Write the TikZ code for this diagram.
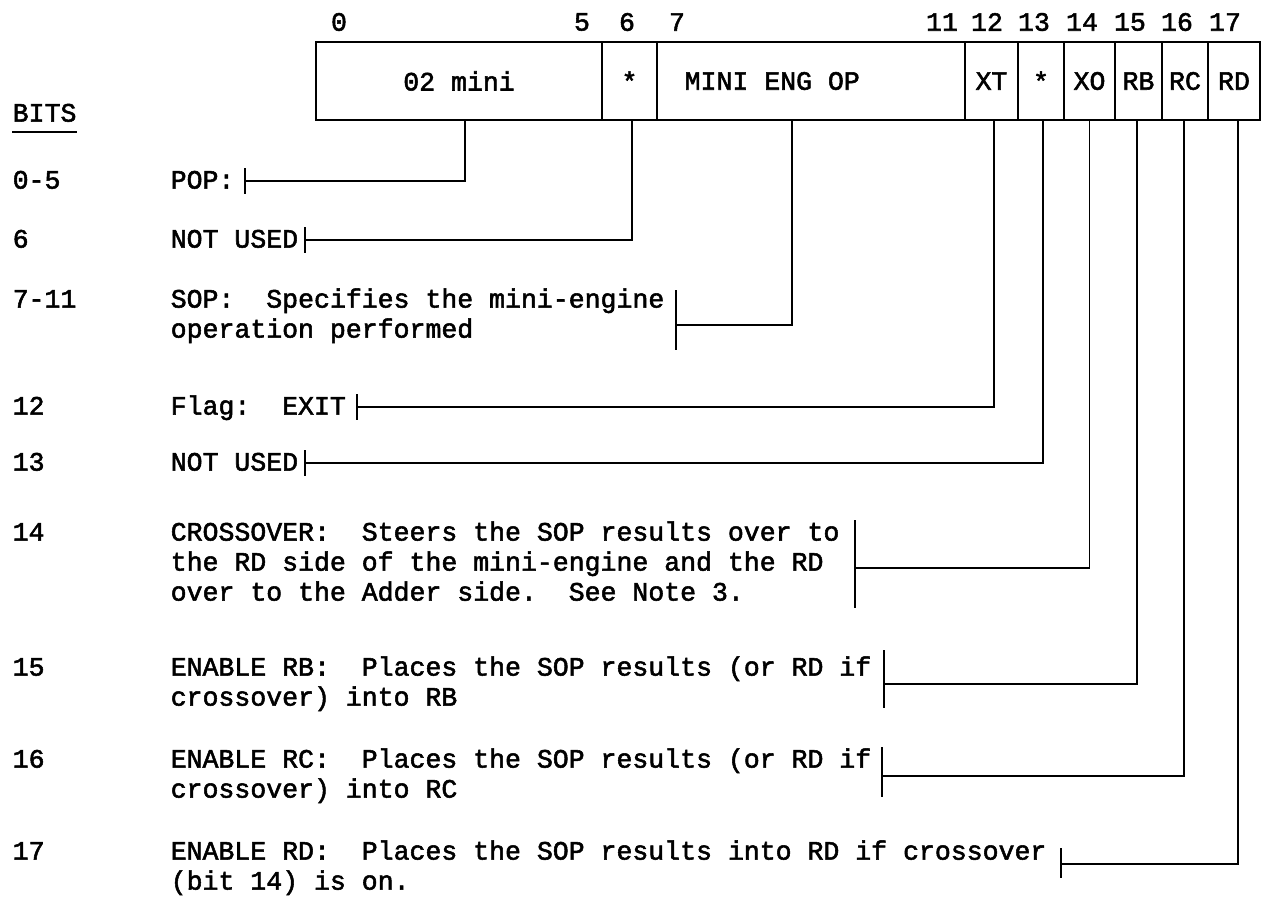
\documentclass[tikz,border=0pt]{standalone}
\usepackage{fontspec}
\newfontfamily\typew[FakeBold=2]{Liberation Mono}

\tikzset{every picture/.style={line width=1.1pt}}
\tikzset{
  tw/.style={font={\typew\fontsize{19.9}{22.5}\selectfont}},
  cell/.style={tw, draw, line width=1.6pt, minimum height=58.5pt, inner sep=0pt},
  bitno/.style={tw, inner sep=0pt},
  desc/.style={tw, anchor=base west, align=left, inner sep=0pt},
  wire/.style={line width=1.2pt},
  tick/.style={line width=1.6pt}
}

\begin{document}
\begin{tikzpicture}[x=0.75pt,y=0.75pt,yscale=-1,xscale=1]
\useasboundingbox (0,0) rectangle (1274,904);

% Register cells
\node [cell, minimum width=214.5pt] (cPop) at (459,81) {02 mini};
\node [cell, minimum width=41.25pt] (cSix) at (629.5,81) {*};
\node [cell, minimum width=231pt] (cSop) at (811,81) {};
\node [tw, anchor=west, inner sep=0pt] (sopText) at ([xshift=21pt]cSop.west) {MINI ENG OP};
\node [cell, minimum width=39.75pt] (cXt) at (991.5,81) {XT};
\node [cell, minimum width=34.5pt] (cThirteen) at (1041,81) {*};
\node [cell, minimum width=38.25pt] (cXo) at (1089.5,81) {XO};
\node [cell, minimum width=35.25pt] (cRb) at (1138.5,81) {RB};
\node [cell, minimum width=34.5pt] (cRc) at (1185,81) {RC};
\node [cell, minimum width=39pt] (cRd) at (1234,81) {RD};

% Bit numbers
\node [bitno] (n0) at (339,22) {0};
\node [bitno] (n5) at (582,22) {5};
\node [bitno] (n6) at (627,22) {6};
\node [bitno] (n7) at (677,22) {7};
\node [bitno] (n11) at (942,22) {11};
\node [bitno] (n12) at (987,22) {12};
\node [bitno] (n13) at (1034,22) {13};
\node [bitno] (n14) at (1082,22) {14};
\node [bitno] (n15) at (1130,22) {15};
\node [bitno] (n16) at (1177,22) {16};
\node [bitno] (n17) at (1225,22) {17};

% Left column
\node [tw, anchor=base west, inner xsep=0pt, inner ysep=7pt] (bits) at (12,121.6) {BITS};
\draw [line width=1.8pt] (bits.south west) -- (bits.south east);
\node [desc] (r0) at (12,188.6) {0-5};
\node [desc] (r6) at (12,247.6) {6};
\node [desc] (r7) at (12,307.6) {7-11};
\node [desc] (r12) at (12,414.6) {12};
\node [desc] (r13) at (12,470.6) {13};
\node [desc] (r14) at (12,540.6) {14};
\node [desc] (r15) at (12,675.6) {15};
\node [desc] (r16) at (12,767.6) {16};
\node [desc] (r17) at (12,859.6) {17};

% Descriptions (base = last line)
\node [desc] (dPop) at (170,188.6) {POP:};
\node [desc] (dSix) at (170,247.6) {NOT USED};
\node [desc] (dSop) at (170,337.6) {SOP:\ \ Specifies the mini-engine\\operation performed};
\node [desc] (dXt) at (170,414.6) {Flag:\ \ EXIT};
\node [desc] (dThirteen) at (170,470.6) {NOT USED};
\node [desc] (dXo) at (170,600.6) {CROSSOVER:\ \ Steers the SOP results over to\\the RD side of the mini-engine and the RD\\over to the Adder side.\ \ See Note 3.};
\node [desc] (dRb) at (170,705.6) {ENABLE RB:\ \ Places the SOP results (or RD if\\crossover) into RB};
\node [desc] (dRc) at (170,797.6) {ENABLE RC:\ \ Places the SOP results (or RD if\\crossover) into RC};
\node [desc] (dRd) at (170,889.6) {ENABLE RD:\ \ Places the SOP results into RD if crossover\\(bit 14) is on.};

% Tick marks and join points
\coordinate (tPop) at (245,181);
\draw [tick] (245,168) -- (245,194);
\coordinate (tSix) at (305,240);
\draw [tick] (305,227) -- (305,253);
\coordinate (tSop) at (676,325);
\draw [tick] (676,290) -- (676,350);
\coordinate (tXt) at (357,407);
\draw [tick] (357,394) -- (357,420);
\coordinate (tThirteen) at (305,463);
\draw [tick] (305,450) -- (305,476);
\coordinate (tXo) at (855,568);
\draw [tick] (855,520) -- (855,608);
\coordinate (tRb) at (884,684);
\draw [tick] (884,650) -- (884,708);
\coordinate (tRc) at (882,776);
\draw [tick] (882,747) -- (882,797);
\coordinate (tRd) at (1061,864);
\draw [tick] (1061,848) -- (1061,878);

% Connectors
\draw [wire] ([xshift=4.5pt]cPop.south) |- (tPop);
\draw [wire] ([xshift=1.9pt]cSix.south) |- (tSix);
\draw [wire] ([xshift=-14.25pt]cSop.south) |- (tSop);
\draw [wire] ([xshift=1.9pt]cXt.south) |- (tXt);
\draw [wire] ([xshift=1.5pt]cThirteen.south) |- (tThirteen);
\draw [wire] (cXo.south) |- (tXo);
\draw [wire] ([xshift=-1.1pt]cRb.south) |- (tRb);
\draw [wire] ([xshift=-0.75pt]cRc.south) |- (tRc);
\draw [wire] ([xshift=3pt]cRd.south) |- (tRd);

\end{tikzpicture}
\end{document}
